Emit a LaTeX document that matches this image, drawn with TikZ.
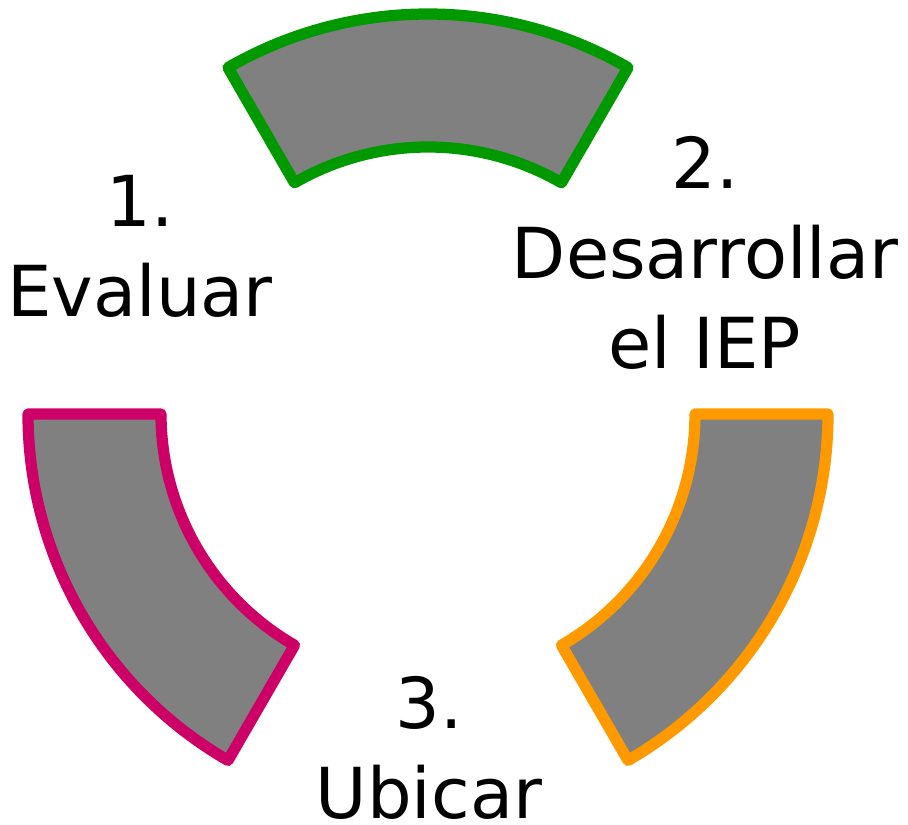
\documentclass[tikz,border=0pt]{standalone}
\usepackage{fontspec}
\setmainfont{DejaVu Sans}
\definecolor{stepgreen}{HTML}{009900}
\definecolor{steppink}{HTML}{CC0066}
\definecolor{steporange}{HTML}{FF9900}
\begin{document}
\begin{tikzpicture}[
        sector/.style={fill=gray, line width=3.2pt, line join=round},
        steplabel/.style={align=center, anchor=north, inner sep=0pt,
            font=\fontsize{20}{25.5}\selectfont}
    ]
            \useasboundingbox (0,0) rectangle (9.08,-8.25);
            \begin{scope}[shift={(4.28,-4.14)}]
            \draw[sector, draw=stepgreen] (60:4) arc[start angle=60, end angle=120, radius=4]
                -- (120:2.67) arc[start angle=120, end angle=60, radius=2.67] -- cycle;
            \draw[sector, draw=steppink] (180:4) arc[start angle=180, end angle=240, radius=4]
                -- (240:2.67) arc[start angle=240, end angle=180, radius=2.67] -- cycle;
            \draw[sector, draw=steporange] (300:4) arc[start angle=300, end angle=360, radius=4]
                -- (360:2.67) arc[start angle=360, end angle=300, radius=2.67] -- cycle;
            \end{scope}

            \node[steplabel] (evaluar) at (1.40,-1.75) {1.\\Evaluar};
            \node[steplabel] (desarrollar) at (7.05,-1.36) {2.\\Desarrollar\\el IEP};
            \node[steplabel] (ubicar) at (4.29,-6.76) {3.\\Ubicar};
        \end{tikzpicture}
\end{document}
